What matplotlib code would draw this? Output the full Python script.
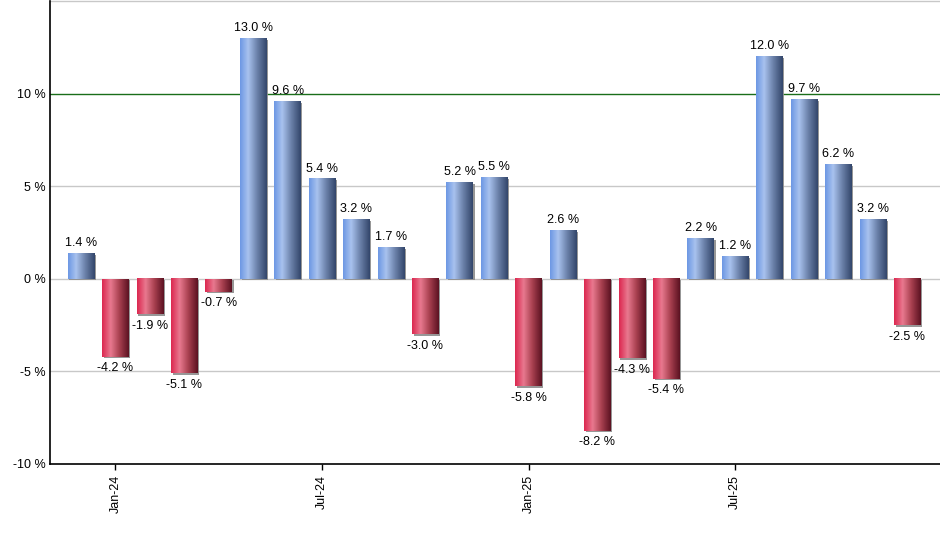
import numpy as np
import matplotlib
matplotlib.use("Agg")
import matplotlib.pyplot as plt
from matplotlib.colors import LinearSegmentedColormap
import matplotlib.patheffects as pe

# monthly returns, Dec-23 .. Dec-25
months = ["Dec-23", "Jan-24", "Feb-24", "Mar-24", "Apr-24", "May-24", "Jun-24",
          "Jul-24", "Aug-24", "Sep-24", "Oct-24", "Nov-24", "Dec-24",
          "Jan-25", "Feb-25", "Mar-25", "Apr-25", "May-25", "Jun-25",
          "Jul-25", "Aug-25", "Sep-25", "Oct-25", "Nov-25", "Dec-25"]
returns = [1.4, -4.2, -1.9, -5.1, -0.7, 13.0, 9.6, 5.4, 3.2, 1.7, -3.0, 5.2, 5.5,
           -5.8, 2.6, -8.2, -4.3, -5.4, 2.2, 1.2, 12.0, 9.7, 6.2, 3.2, -2.5]
shown_ticks = ["Jan-24", "Jul-24", "Jan-25", "Jul-25"]
y_ticks = [-10, -5, 0, 5, 10]

plt.rcParams['font.family'] = ['Liberation Sans', 'DejaVu Sans']

blue_cm = LinearSegmentedColormap.from_list(
    "b", [(0, "#6d98e4"), (0.3, "#a8c2ee"), (0.65, "#6a80a8"), (1, "#33466b")])
red_cm = LinearSegmentedColormap.from_list(
    "r", [(0, "#dc2850"), (0.32, "#e8798f"), (0.65, "#a8404f"), (1, "#5c1222")])
grad = np.linspace(0, 1, 64).reshape(1, -1)

fig = plt.figure(figsize=(9.4, 5.5), dpi=100)
ax = fig.add_axes([50 / 940, 1 - 464 / 550, 890 / 940, 463 / 550])

x = np.arange(len(returns))
bars = ax.bar(x, returns, width=0.77, color="#909090", zorder=2,
              path_effects=[pe.SimplePatchShadow(offset=(1.2, -1.2), shadow_rgbFace="#8c8c8c", alpha=0.9), pe.Normal()])

for b, v in zip(bars, returns):
    x0, y0 = b.get_x(), b.get_y()
    w, h = b.get_width(), b.get_height()
    cm = blue_cm if v >= 0 else red_cm
    ax.imshow(grad, cmap=cm, aspect="auto", extent=(x0, x0 + w, y0, y0 + h),
              interpolation="bilinear", zorder=3)
    if v >= 0:
        ax.annotate(f"{v:.1f} %", (b.get_x() + w / 2, v), xytext=(0, 3),
                    textcoords="offset points", ha="center", va="bottom", fontsize=9)
    else:
        ax.annotate(f"{v:.1f} %", (b.get_x() + w / 2, v), xytext=(0, -4),
                    textcoords="offset points", ha="center", va="top", fontsize=9)

ax.set_xlim(-0.9, len(returns) - 0.05)
ax.set_ylim(-10, 15)
ax.set_yticks(y_ticks)
ax.set_yticklabels([f"{t} %" for t in y_ticks], fontsize=9)
ax.tick_params(axis="y", length=0, pad=3)

tick_pos = [months.index(m) for m in shown_ticks]
ax.set_xticks(tick_pos)
ax.set_xticklabels(shown_ticks, rotation=90, fontsize=9)
ax.tick_params(axis="x", length=4, width=1, pad=4)

for t in [-5, 0, 5, 15]:
    ax.axhline(t, color="#c8c8c8", lw=1, zorder=1, clip_on=False)
ax.axhline(10, color="#1a6e1a", lw=1, zorder=1)

ax.spines["top"].set_visible(False)
ax.spines["right"].set_visible(False)
ax.spines["left"].set_linewidth(1.2)
ax.spines["bottom"].set_linewidth(1.2)

fig.savefig("out.png", dpi=100)
